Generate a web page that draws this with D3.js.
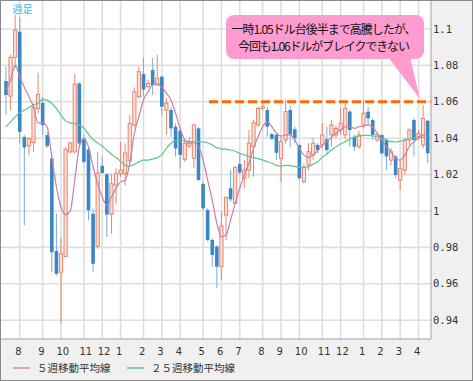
<!DOCTYPE html>
<html>
<head>
<meta charset="utf-8">
<script src="https://cdn.jsdelivr.net/npm/d3@7"></script>
<style>
  html, body { margin: 0; padding: 0; background: #f0f0f0; }
  svg { display: block; }
</style>
</head>
<body>
<svg id="chart" width="473" height="381"></svg>
<script>
// weekly candles (AUD/USD style)
const opens = [1.0714,1.0631,1.0844,1.0985,1.0407,1.0358,1.0376,1.0563,1.0594,1.0417,
  1.0288,0.9780,0.9664,0.9750,1.0325,1.0325,1.0701,1.0398,1.0338,0.9985,
  0.9806,1.0248,1.0202,0.9982,1.0141,1.0205,1.0205,1.0279,1.0472,1.0628,
  1.0752,1.0683,1.0775,1.0692,1.0738,1.0555,1.0555,1.0463,1.0441,1.0284,
  1.0357,1.0289,1.0454,1.0148,1.0005,0.9841,0.9804,0.9694,0.9978,1.0125,
  1.0042,1.0258,1.0179,1.0225,1.0353,1.0473,1.0564,1.0555,1.0423,1.0418,
  1.0289,1.0390,1.0555,1.0449,1.0363,1.0161,1.0253,1.0308,1.0363,1.0363,
  1.0394,1.0418,1.0418,1.0445,1.0418,1.0546,1.0408,1.0353,1.0473,1.0546,
  1.0500,1.0390,1.0418,1.0390,1.0280,1.0299,1.0170,1.0225,1.0390,1.0500,
  1.0408,1.0363,1.0496];
const highs = [1.0793,1.0857,1.1077,1.1064,1.0417,1.0407,1.0591,1.0760,1.0628,1.0435,
  1.0297,0.9985,0.9850,1.0352,1.0380,1.0752,1.0706,1.0417,1.0352,1.0013,
  1.0325,1.0297,1.0209,1.0205,1.0233,1.0380,1.0371,1.0527,1.0679,1.0793,
  1.0844,1.0720,1.0841,1.0857,1.0745,1.0619,1.0573,1.0482,1.0454,1.0399,
  1.0408,1.0476,1.0463,1.0161,1.0015,0.9850,0.9813,0.9996,1.0079,1.0225,
  1.0245,1.0317,1.0280,1.0445,1.0500,1.0573,1.0600,1.0573,1.0427,1.0427,
  1.0408,1.0612,1.0580,1.0463,1.0363,1.0262,1.0372,1.0400,1.0372,1.0482,
  1.0463,1.0500,1.0470,1.0570,1.0592,1.0555,1.0418,1.0440,1.0610,1.0573,
  1.0509,1.0430,1.0418,1.0400,1.0345,1.0308,1.0280,1.0400,1.0454,1.0509,
  1.0445,1.0582,1.0500];
const lows = [1.0527,1.0554,1.0783,1.0371,0.9921,1.0306,1.0325,1.0536,1.0417,1.0349,
  0.9664,0.9646,0.9383,0.9747,1.0316,1.0316,1.0352,1.0260,0.9949,0.9664,
  0.9793,1.0205,0.9857,0.9875,1.0040,1.0187,1.0141,1.0260,1.0462,1.0618,
  1.0628,1.0674,1.0637,1.0692,1.0527,1.0418,1.0408,1.0299,1.0234,1.0270,
  1.0344,1.0234,1.0167,1.0005,0.9832,0.9694,0.9575,0.9621,0.9841,1.0051,
  1.0038,1.0198,1.0125,1.0179,1.0189,1.0463,1.0555,1.0408,1.0390,1.0280,
  1.0161,1.0370,1.0350,1.0372,1.0170,1.0152,1.0225,1.0280,1.0317,1.0344,
  1.0308,1.0353,1.0400,1.0420,1.0400,1.0353,1.0330,1.0340,1.0454,1.0473,
  1.0390,1.0380,1.0308,1.0225,1.0250,1.0180,1.0115,1.0198,1.0353,1.0299,
  1.0395,1.0344,1.0262];
const closes = [1.0637,1.0844,1.0994,1.0435,1.0349,1.0398,1.0569,1.0640,1.0472,1.0356,
  0.9774,0.9655,0.9765,1.0339,1.0374,1.0697,1.0371,1.0270,1.0004,0.9710,
  1.0209,1.0209,0.9980,1.0150,1.0205,1.0224,1.0319,1.0481,1.0655,1.0765,
  1.0668,1.0701,1.0692,1.0729,1.0573,1.0592,1.0454,1.0344,1.0308,1.0372,
  1.0381,1.0473,1.0170,1.0015,0.9841,0.9758,0.9694,0.9918,1.0075,1.0064,
  1.0240,1.0211,1.0225,1.0372,1.0485,1.0564,1.0573,1.0463,1.0397,1.0320,
  1.0381,1.0546,1.0420,1.0400,1.0180,1.0240,1.0326,1.0372,1.0335,1.0418,
  1.0335,1.0473,1.0454,1.0482,1.0564,1.0445,1.0353,1.0418,1.0537,1.0509,
  1.0418,1.0418,1.0317,1.0300,1.0326,1.0198,1.0234,1.0390,1.0445,1.0390,
  1.0427,1.0509,1.0317];

// moving averages as drawn in the picture
const ma5 = [1.0664,1.0720,1.0800,1.0738,1.0680,1.0628,1.0572,1.0484,1.0484,1.0460,
  1.0297,1.0132,1.0022,0.9980,1.0000,1.0169,1.0352,1.0398,1.0352,1.0242,
  1.0150,1.0077,1.0031,1.0077,1.0123,1.0160,1.0169,1.0260,1.0426,1.0520,
  1.0610,1.0656,1.0692,1.0698,1.0680,1.0647,1.0610,1.0537,1.0454,1.0390,
  1.0372,1.0375,1.0353,1.0280,1.0170,1.0060,0.9932,0.9859,0.9868,0.9951,
  1.0042,1.0125,1.0198,1.0262,1.0344,1.0408,1.0463,1.0491,1.0463,1.0427,
  1.0412,1.0418,1.0418,1.0390,1.0344,1.0308,1.0295,1.0308,1.0331,1.0363,
  1.0381,1.0405,1.0427,1.0445,1.0463,1.0463,1.0454,1.0463,1.0467,1.0473,
  1.0463,1.0427,1.0390,1.0353,1.0326,1.0289,1.0280,1.0308,1.0353,1.0381,
  1.0399,1.0418,1.0427];
const ma25 = [1.0462,1.0490,1.0517,1.0540,1.0554,1.0569,1.0582,1.0594,1.0613,1.0609,
  1.0591,1.0563,1.0527,1.0495,1.0484,1.0481,1.0472,1.0455,1.0422,1.0393,
  1.0374,1.0356,1.0334,1.0312,1.0294,1.0273,1.0251,1.0246,1.0257,1.0270,
  1.0279,1.0280,1.0286,1.0293,1.0308,1.0344,1.0372,1.0386,1.0390,1.0385,
  1.0381,1.0379,1.0381,1.0379,1.0375,1.0363,1.0348,1.0341,1.0339,1.0335,
  1.0328,1.0317,1.0308,1.0299,1.0293,1.0288,1.0280,1.0271,1.0262,1.0251,
  1.0247,1.0251,1.0249,1.0244,1.0240,1.0240,1.0244,1.0258,1.0271,1.0295,
  1.0313,1.0335,1.0353,1.0368,1.0381,1.0394,1.0405,1.0412,1.0416,1.0416,
  1.0412,1.0408,1.0399,1.0390,1.0381,1.0379,1.0383,1.0390,1.0397,1.0401,
  1.0403,1.0405,1.0405];

// first week of each month
const monthWeeks = [3,8,12,17,21,25,30,34,38,43,47,51,56,60,64,69,73,78,82,86,90];
const monthLabels = ['8','9','10','11','12','1','2','3','4','5','6','7','8','9','10','11','12','1','2','3','4'];
const priceTicks = [0.94,0.96,0.98,1.0,1.02,1.04,1.06,1.08,1.1];

const resistance = 1.06;
const resistanceFrom = 44.3;
const noteLines = ['一時1.05ドル台後半まで高騰したが、', '今回も1.06ドルがブレイクできない'];

const candles = opens.map((o, i) => ({ i, o, h: highs[i], l: lows[i], c: closes[i] }));

const svg = d3.select('#chart');
const W = 473, H = 381;
const plot = { left: 1, top: 1, right: 431, bottom: 339 };

const x = d3.scaleLinear().domain([-1.09, 92.72]).range([plot.left, plot.right]);
const y = d3.scaleLinear().domain([0.94, 1.1]).range([320.2, 29]);

svg.append('rect').attr('width', W).attr('height', H).attr('fill', '#f0f0f0');
svg.append('rect').attr('x', 0.5).attr('y', 0.5).attr('width', W - 1).attr('height', H - 1)
  .attr('fill', 'none').attr('stroke', '#8a8a8a');

svg.append('defs').append('clipPath').attr('id', 'clip')
  .append('rect').attr('x', plot.left).attr('y', plot.top)
  .attr('width', plot.right - plot.left).attr('height', plot.bottom - plot.top);

svg.append('rect').attr('x', plot.left).attr('y', plot.top)
  .attr('width', plot.right - plot.left).attr('height', plot.bottom - plot.top)
  .attr('fill', '#fff');

const g = svg.append('g').attr('clip-path', 'url(#clip)');

// grid
g.selectAll('.hgrid').data(priceTicks).join('line')
  .attr('x1', plot.left).attr('x2', plot.right)
  .attr('y1', d => y(d)).attr('y2', d => y(d))
  .attr('stroke', '#dedede').attr('stroke-width', 1.6);
g.selectAll('.vgrid').data(monthWeeks).join('line')
  .attr('x1', d => x(d)).attr('x2', d => x(d))
  .attr('y1', plot.top).attr('y2', plot.bottom)
  .attr('stroke', '#dedede').attr('stroke-width', 1.6);

// candles
const up = d => d.c >= d.o;
g.selectAll('.wick').data(candles).join('line')
  .attr('x1', d => x(d.i)).attr('x2', d => x(d.i))
  .attr('y1', d => y(d.h)).attr('y2', d => y(d.l))
  .attr('stroke', d => up(d) ? '#e8866e' : '#74aedb')
  .attr('stroke-width', 1);

g.selectAll('.body').data(candles).join('rect')
  .attr('x', d => up(d) ? x(d.i) - 1.6 : x(d.i) - 1.8)
  .attr('width', d => up(d) ? 3.2 : 3.6)
  .attr('y', d => y(Math.max(d.o, d.c)))
  .attr('height', d => Math.max(1, Math.abs(y(d.o) - y(d.c))))
  .attr('fill', d => up(d) ? '#fbe0d6' : '#3b86c4')
  .attr('stroke', d => up(d) ? '#e8866e' : 'none')
  .attr('stroke-width', 1);

// moving averages
const maLine = d3.line().x((d, i) => x(i)).y(d => y(d)).curve(d3.curveMonotoneX);
g.append('path').datum(ma25).attr('d', maLine)
  .attr('fill', 'none').attr('stroke', '#5cc58c').attr('stroke-width', 1.2);
g.append('path').datum(ma5).attr('d', maLine)
  .attr('fill', 'none').attr('stroke', '#c77fa8').attr('stroke-width', 1.2);

// resistance line
g.append('line')
  .attr('x1', x(resistanceFrom)).attr('x2', plot.right)
  .attr('y1', y(resistance)).attr('y2', y(resistance))
  .attr('stroke', '#ff6a00').attr('stroke-width', 3)
  .attr('stroke-dasharray', '9,4');

// plot border
svg.append('path')
  .attr('d', `M${plot.right},${plot.top}V${plot.bottom}H${plot.left}`)
  .attr('fill', 'none').attr('stroke', '#a0a0a0');

// price labels
svg.selectAll('.ylab').data(priceTicks).join('text')
  .attr('x', 433).attr('y', d => y(d)).attr('dy', '0.35em')
  .attr('font-family', 'DejaVu Sans Mono, monospace').attr('font-size', 10.5)
  .attr('fill', '#333')
  .text(d => d === 1 ? '1' : d3.format('')(+d.toFixed(2)));

// month labels
svg.selectAll('.xlab').data(monthWeeks).join('text')
  .attr('x', d => x(d) - 4.5).attr('y', 351).attr('dy', '0.35em')
  .attr('font-family', 'DejaVu Sans, sans-serif').attr('font-size', 10)
  .attr('fill', '#333')
  .text((d, i) => monthLabels[i]);

// title
svg.append('text').attr('x', 12.5).attr('y', 9).attr('dy', '0.35em')
  .attr('font-family', 'Noto Sans CJK JP, sans-serif').attr('font-size', 10)
  .attr('fill', '#3bb8ec').text('週足');

// legend
const legend = [
  { label: '５週移動平均線', color: '#d9a3bf', x: 13 },
  { label: '２５週移動平均線', color: '#80d2aa', x: 127 }
];
const lg = svg.selectAll('.legend').data(legend).join('g');
lg.append('line')
  .attr('x1', d => d.x).attr('x2', d => d.x + 17)
  .attr('y1', 368).attr('y2', 368)
  .attr('stroke', d => d.color).attr('stroke-width', 2);
lg.append('text')
  .attr('x', d => d.x + 24).attr('y', 368).attr('dy', '0.35em')
  .attr('font-family', 'Noto Sans CJK JP, sans-serif').attr('font-size', 10.5)
  .attr('letter-spacing', 0)
  .attr('fill', '#333').text(d => d.label);

// callout
const note = svg.append('g');
note.append('path')
  .attr('d', 'M388,57 L410,57 L420,99 Z')
  .attr('fill', '#ff9ccf');
note.append('rect')
  .attr('x', 226).attr('y', 15).attr('width', 198).attr('height', 44).attr('rx', 8)
  .attr('fill', '#ff9ccf');
note.selectAll('text').data(noteLines).join('text')
  .attr('x', 324).attr('y', (d, i) => 30 + i * 17).attr('dy', '0.35em')
  .attr('text-anchor', 'middle')
  .attr('font-family', 'Noto Sans CJK JP, sans-serif').attr('font-size', 12)
  .attr('textLength', (d, i) => i === 0 ? 185 : 172)
  .attr('lengthAdjust', 'spacing')
  .attr('fill', '#111')
  .text(d => d);
</script>
</body>
</html>
